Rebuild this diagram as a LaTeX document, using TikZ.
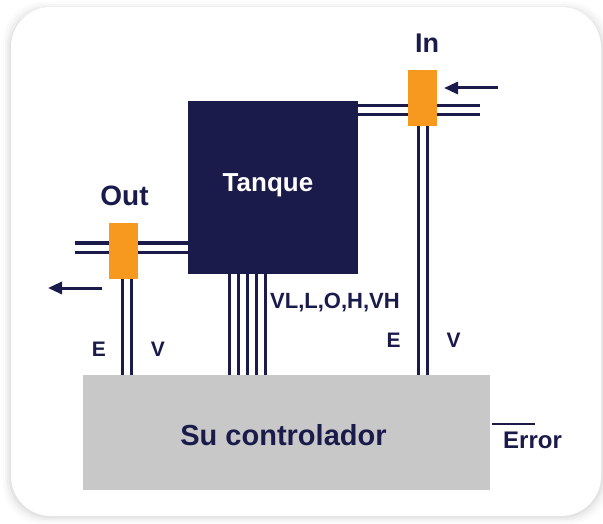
\documentclass[tikz,border=0pt]{standalone}
\usepackage{fontspec}
\setmainfont{Liberation Sans}
\usetikzlibrary{arrows.meta}
\definecolor{navy}{HTML}{1B1B4B}
\definecolor{valveor}{HTML}{F7991F}
\definecolor{ctrlgrey}{HTML}{C8C8C8}
\begin{document}
\begin{tikzpicture}[x=1pt,y=-1pt,
  lbl/.style={text=navy,font=\bfseries\fontsize{21}{23}\selectfont,inner sep=0pt},
  pipe/.style={draw=navy,line width=3pt,double=white,double distance=6pt},
  wire/.style={draw=navy,line width=3pt},
  flow/.style={draw=navy,line width=3pt,-{Triangle[length=14pt,width=12pt]}},
  valve/.style={fill=valveor,draw=none,minimum width=29pt,minimum height=56pt,inner sep=0pt}]
\useasboundingbox (0,0) rectangle (603,524);
\fill[white] (0,0) rectangle (603,524);
% card shadow
\foreach \o/\a in {8/0.015,6/0.02,4/0.03,2/0.04}{
  \fill[black,opacity=\a,rounded corners=40pt] (11-\o,7-\o+3) rectangle (601+\o,516+\o);
}
\fill[white,rounded corners=40pt] (11,7) rectangle (601,516);
% main blocks
\node[fill=navy,minimum width=170pt,minimum height=173pt,inner sep=0pt] (tank) at (273,187.5) {};
\node[text=white,font=\bfseries\fontsize{26}{28}\selectfont,inner sep=0pt] (tanklbl) at (268,185) {Tanque};
\node[fill=ctrlgrey,minimum width=407pt,minimum height=115pt,inner sep=0pt] (ctrl) at (286.5,432.5) {};
\node[text=navy,font=\bfseries\fontsize{29}{31}\selectfont,inner sep=0pt] (ctrllbl) at (283.5,435) {Su controlador};
% In pipe
\coordinate (inend) at (480,110.5);
\coordinate (intank) at (358,110.5);
\path[pipe] (intank) -- (inend);
\coordinate (invtop) at (423,126);
\coordinate (invbot) at (423,375);
\path[pipe] (invtop) -- (invbot);
\node[valve] (inv) at (422.5,98) {};
\node[lbl,font=\bfseries\fontsize{27}{29}\selectfont] (inlbl) at (427,43.5) {In};
\coordinate (inarr1) at (498,88);
\coordinate (inarr2) at (444,88);
\draw[flow] (inarr1) -- (inarr2);
% Out pipe
\coordinate (outl) at (75,247.5);
\coordinate (outr) at (188,247.5);
\path[pipe] (outl) -- (outr);
\coordinate (outvtop) at (127,279);
\coordinate (outvbot) at (127,375);
\path[pipe] (outvtop) -- (outvbot);
\node[valve] (outv) at (123.5,251) {};
\node[lbl,font=\bfseries\fontsize{28}{30}\selectfont] (outlbl) at (124.5,196) {Out};
\coordinate (outarr1) at (102,288);
\coordinate (outarr2) at (48,288);
\draw[flow] (outarr1) -- (outarr2);
% tank sensor lines
\foreach \i/\x in {1/229,2/238,3/247,4/256,5/265}{
  \coordinate (s\i a) at (\x,274);
  \coordinate (s\i b) at (\x,375);
  \draw[wire] (s\i a) -- (s\i b);
}
\node[lbl,font=\bfseries\fontsize{22}{24}\selectfont,anchor=west] (levels) at (270,303) {VL,L,O,H,VH};
\node[lbl] (e1) at (99,349) {E};
\node[lbl] (v1) at (158,349) {V};
\node[lbl] (e2) at (393.5,340) {E};
\node[lbl] (v2) at (453.5,340) {V};
\node[lbl,font=\bfseries\fontsize{24}{26}\selectfont] (err) at (532.5,440) {Error};
\coordinate (ov1) at (492,424);
\coordinate (ov2) at (535,424);
\draw[navy,line width=2.5pt] (ov1) -- (ov2);
\end{tikzpicture}
\end{document}
